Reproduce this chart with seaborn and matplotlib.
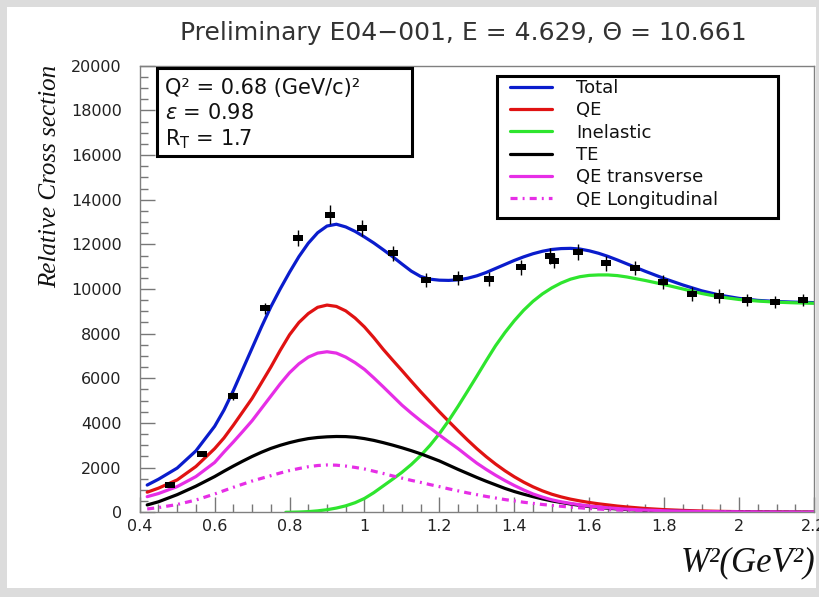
import numpy as np
import pandas as pd
import matplotlib
matplotlib.use("Agg")
import matplotlib.pyplot as plt
import seaborn as sns
from matplotlib.patches import Rectangle
from matplotlib.ticker import MultipleLocator, FixedLocator

# ---------------- data ----------------
w2_grid = [0.42, 0.45, 0.50, 0.55,
           0.600, 0.625, 0.650, 0.675, 0.700, 0.725, 0.750, 0.775, 0.800, 0.825, 0.850, 0.875,
           0.900, 0.925, 0.950, 0.975,
           1.000, 1.025, 1.050, 1.075, 1.100, 1.125, 1.150, 1.175, 1.200, 1.225, 1.250, 1.275,
           1.300, 1.325, 1.350, 1.375,
           1.400, 1.425, 1.450, 1.475, 1.500, 1.525, 1.550, 1.575, 1.600, 1.625, 1.650, 1.675, 1.700,
           1.75, 1.80, 1.85, 1.90, 1.95, 2.00, 2.05, 2.10, 2.15, 2.20]

total = [1220, 1480, 1980, 2750,
         3850, 4580, 5450, 6400, 7350, 8300, 9200, 10000, 10750, 11450, 12050, 12520,
         12820, 12900, 12780, 12580,
         12330, 12060, 11760, 11450, 11120, 10800, 10560, 10440, 10395, 10385, 10410, 10480,
         10590, 10740, 10920, 11100,
         11280, 11440, 11580, 11690, 11770, 11810, 11820, 11790, 11710, 11600, 11460, 11300, 11130,
         10790, 10470, 10180, 9920, 9720, 9580, 9490, 9440, 9410, 9390]

qe = [900, 1080, 1450, 2050,
      2850, 3330, 3900, 4500, 5100, 5800, 6500, 7250, 7950, 8500, 8900, 9180,
      9280, 9220, 9020, 8700,
      8300, 7820, 7300, 6820, 6350, 5870, 5400, 4950, 4500, 4070, 3650, 3240,
      2850, 2490, 2160, 1860,
      1590, 1350, 1140, 960, 810, 690, 590, 510, 440, 380, 330, 280, 240,
      170, 120, 85, 60, 42, 30, 20, 15, 10, 8]

qe_t = [700, 840, 1150, 1600,
        2230, 2700, 3150, 3620, 4100, 4650, 5200, 5750, 6250, 6650, 6950, 7130,
        7190, 7130, 6950, 6700,
        6400, 6020, 5620, 5210, 4800, 4440, 4100, 3780, 3460, 3150, 2850, 2520,
        2200, 1920, 1660, 1420,
        1200, 1000, 820, 680, 560, 470, 400, 340, 280, 240, 200, 170, 140,
        100, 70, 50, 35, 25, 18, 12, 8, 5, 4]

qe_l = [150, 210, 350, 550,
        820, 970, 1120, 1260, 1400, 1520, 1640, 1760, 1870, 1960, 2040, 2095,
        2120, 2110, 2070, 2010,
        1940, 1840, 1740, 1630, 1530, 1430, 1340, 1240, 1150, 1050, 960, 870,
        790, 710, 640, 570,
        510, 450, 400, 350, 310, 270, 230, 200, 170, 145, 120, 100, 85,
        60, 40, 28, 20, 14, 10, 7, 5, 3, 2]

te = [330, 470, 790, 1170,
      1600, 1840, 2070, 2290, 2500, 2690, 2860, 3000, 3120, 3220, 3300, 3350,
      3380, 3395, 3390, 3360,
      3300, 3220, 3120, 3010, 2890, 2760, 2620, 2460, 2300, 2110, 1920, 1740,
      1560, 1390, 1230, 1070,
      930, 810, 700, 600, 510, 440, 370, 310, 260, 220, 180, 150, 125,
      85, 60, 40, 28, 19, 13, 9, 6, 4, 3]

w2_inel = [0.79, 0.800, 0.825, 0.850, 0.875, 0.900, 0.925, 0.950, 0.975, 1.000,
           1.025, 1.050, 1.075, 1.100, 1.125, 1.150, 1.175, 1.200, 1.225, 1.250,
           1.275, 1.300, 1.325, 1.350, 1.375, 1.400, 1.425, 1.450, 1.475, 1.500,
           1.525, 1.550, 1.575, 1.600, 1.625, 1.650, 1.675, 1.700,
           1.75, 1.80, 1.85, 1.90, 1.95, 2.00, 2.05, 2.10, 2.15, 2.20]
inelastic = [0, 2, 12, 30, 65, 115, 190, 290, 430, 620,
             880, 1180, 1480, 1790, 2140, 2540, 3000, 3520, 4110, 4750,
             5420, 6100, 6790, 7460, 8050, 8580, 9050, 9450, 9780, 10050,
             10270, 10440, 10550, 10610, 10630, 10630, 10600, 10540,
             10380, 10200, 10000, 9800, 9640, 9530, 9460, 9410, 9380, 9360]

data_w2 = [0.481, 0.566, 0.649, 0.734, 0.822, 0.907, 0.993, 1.075, 1.163, 1.249, 1.333, 1.419,
           1.495, 1.505, 1.571, 1.646, 1.721, 1.796, 1.873, 1.947, 2.022, 2.097, 2.171]
data_xs = [1223, 2611, 5208, 9127, 12284, 13336, 12732, 11590, 10403, 10493, 10448, 10963,
           11478, 11254, 11657, 11142, 10940, 10313, 9776, 9686, 9507, 9417, 9507]
data_err = [70, 110, 170, 260, 380, 420, 380, 340, 320, 320, 320, 330,
            340, 330, 350, 330, 330, 310, 300, 300, 290, 290, 290]

x_ticks = [0.4, 0.6, 0.8, 1.0, 1.2, 1.4, 1.6, 1.8, 2.0, 2.2]
x_ticklabels = ["0.4", "0.6", "0.8", "1", "1.2", "1.4", "1.6", "1.8", "2", "2.2"]
y_ticks = [0, 2000, 4000, 6000, 8000, 10000, 12000, 14000, 16000, 18000, 20000]

title = "Preliminary E04\u2212001, E = 4.629, \u0398 = 10.661"
info_lines = ["Q\u00b2 = 0.68 (GeV/c)\u00b2", r"$\varepsilon$ = 0.98", r"R$_\mathregular{T}$ = 1.7"]

# ---------------- style ----------------
sns.set_theme(style="white")
plt.rcParams["font.family"] = ["DejaVu Sans"]
plt.rcParams["mathtext.fontset"] = "custom"
plt.rcParams["mathtext.it"] = "DejaVu Sans:italic"
plt.rcParams["mathtext.rm"] = "DejaVu Sans"

W, H = 820, 597
fig = plt.figure(figsize=(W / 100, H / 100), dpi=100, facecolor="#dcdcdc")
fig.patches.append(Rectangle((7 / W, 9 / H), (816 - 7) / W, (589 - 8) / H,
                             transform=fig.transFigure, facecolor="white",
                             edgecolor="none", zorder=-10))

ax_l, ax_r, ax_t, ax_b = 139.7, 814.0, 65.7, 512.3
ax = fig.add_axes([ax_l / W, (H - ax_b) / H, (ax_r - ax_l) / W, (ax_b - ax_t) / H])
ax.set_zorder(2)
ax.set_facecolor("white")


def ax_xy(px, py):
    return (px - ax_l) / (ax_r - ax_l), (ax_b - py) / (ax_b - ax_t)


blue, red, green, magenta = "#0a1ccc", "#e01212", "#2ee52e", "#e62ee6"
lw = 2.3

curves = pd.DataFrame({"W2": w2_grid, "Total": total, "QE": qe, "TE": te,
                       "QE transverse": qe_t, "QE Longitudinal": qe_l})
inel_df = pd.DataFrame({"W2": w2_inel, "Inelastic": inelastic})

common = dict(lw=lw, ax=ax, errorbar=None, legend=False)
sns.lineplot(data=curves, x="W2", y="Total", color=blue, label="Total", **common)
sns.lineplot(data=curves, x="W2", y="QE", color=red, label="QE", **common)
sns.lineplot(data=inel_df, x="W2", y="Inelastic", color=green, label="Inelastic", **common)
sns.lineplot(data=curves, x="W2", y="TE", color="black", label="TE", **common)
sns.lineplot(data=curves, x="W2", y="QE transverse", color=magenta, label="QE transverse", **common)
sns.lineplot(data=curves, x="W2", y="QE Longitudinal", color=magenta, label="QE Longitudinal",
             linestyle=(0, (2.2, 1.6, 0.6, 1.6)), **common)

ax.errorbar(data_w2, data_xs, yerr=data_err, fmt="none", ecolor="black",
            elinewidth=1.0, capsize=0, zorder=5)
rect_marker = [(-1, -0.72), (1, -0.72), (1, 0.72), (-1, 0.72), (-1, -0.72)]
ax.plot(data_w2, data_xs, linestyle="none", marker=rect_marker, markersize=6.6,
        color="black", markeredgewidth=0, zorder=6)

# ---------------- axes ----------------
ax.set_xlim(0.4, 2.2)
ax.set_ylim(0, 20000)
ax.xaxis.set_major_locator(FixedLocator(x_ticks))
ax.set_xticklabels(x_ticklabels)
ax.yaxis.set_major_locator(FixedLocator(y_ticks))
ax.xaxis.set_minor_locator(MultipleLocator(0.05))
ax.yaxis.set_minor_locator(MultipleLocator(500))
ax.tick_params(which="both", direction="in", colors="#777777", width=1,
               bottom=True, left=True, top=False, right=False)
ax.tick_params(which="major", length=11)
ax.tick_params(which="minor", length=5.5)
ax.tick_params(axis="x", which="major", labelsize=11.5, labelcolor="#222222", pad=5)
ax.tick_params(axis="y", which="major", labelsize=11.5, labelcolor="#222222", pad=13)
for sp in ax.spines.values():
    sp.set_color("#808080")
    sp.set_linewidth(1.0)
ax.set_xlabel("")
ax.set_ylabel("")

fig.text(463 / W, (H - 33) / H, title, ha="center", va="center", fontsize=18,
         color="#333333")
fig.text(50 / W, (H - 65) / H, "Relative Cross section", rotation=90, ha="center", va="top",
         fontsize=18, family="Liberation Serif", style="italic", color="#111111")
fig.text(815 / W, (H - 563) / H, "W\u00b2(GeV\u00b2)", ha="right", va="center",
         fontsize=25, family="Liberation Serif", style="italic", color="#111111")

# info box
x0, y0 = ax_xy(157, 156)
x1, y1 = ax_xy(412, 68)
ax.add_patch(Rectangle((x0, y0), x1 - x0, y1 - y0, transform=ax.transAxes,
                       facecolor="white", edgecolor="black", lw=2.2, zorder=7))
for line, py in zip(info_lines, [88, 113, 139]):
    tx, ty = ax_xy(165, py)
    ax.text(tx, ty, line, transform=ax.transAxes, ha="left", va="center",
            fontsize=15, color="#111111", zorder=8)

# legend box
lx0, ly0 = ax_xy(497, 218)
lx1, ly1 = ax_xy(778, 76)
ax.add_patch(Rectangle((lx0, ly0), lx1 - lx0, ly1 - ly0, transform=ax.transAxes,
                       facecolor="white", edgecolor="black", lw=2.2, zorder=7))
hx, hy = ax_xy(510, 79)
leg = ax.legend(loc="upper left", bbox_to_anchor=(hx, hy), frameon=False, fontsize=13,
                borderpad=0, borderaxespad=0, labelspacing=0.24, handlelength=2.35,
                handletextpad=1.3)
leg.set_zorder(9)
for t in leg.get_texts():
    t.set_color("#111111")

fig.savefig("out.png", dpi=100, facecolor=fig.get_facecolor())
